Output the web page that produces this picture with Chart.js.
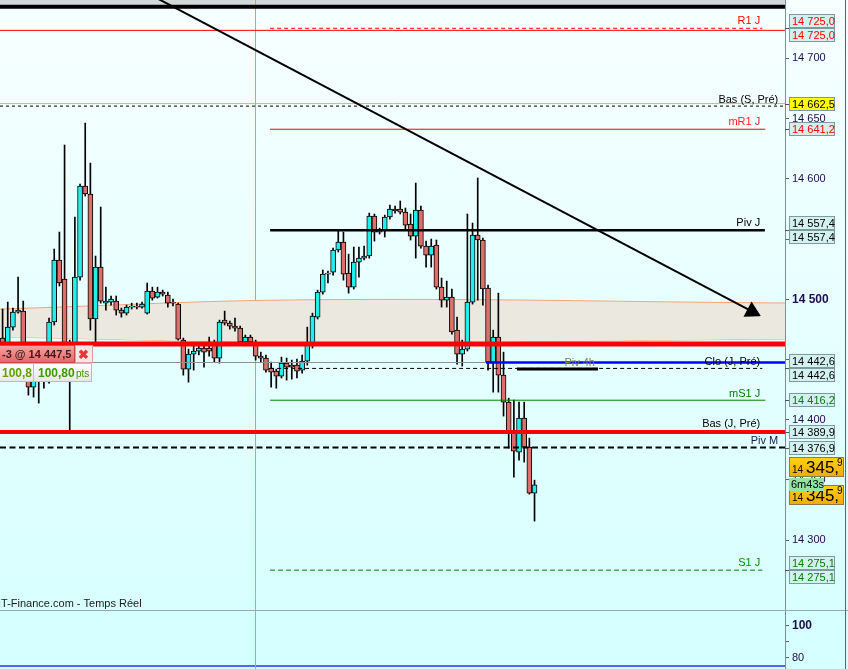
<!DOCTYPE html>
<html>
<head>
<meta charset="utf-8">
<script src="https://cdn.jsdelivr.net/npm/chart.js@4.4.1/dist/chart.umd.min.js"></script>
<style>
  html, body { margin: 0; padding: 0; background: #d6ffff; overflow: hidden; }
  canvas { display: block; }
</style>
</head>
<body>
<canvas id="price" width="848" height="610"></canvas>
<canvas id="osc" width="848" height="59"></canvas>
<script>
const FONT = '"Liberation Sans", Arial, sans-serif';

// candles, oldest first
const opens = [
  14467.8, 14461.1, 14476.9, 14489.4, 14490.2, 14449.5, 14427.1, 14445.3, 14437.0, 14456.1,
  14481.1, 14532.6, 14516.8, 14462.0, 14457.8, 14518.4, 14594.0, 14587.4, 14483.6, 14526.7,
  14496.8, 14497.7, 14498.5, 14491.0, 14488.5, 14493.5, 14494.4, 14493.5, 14488.5, 14506.8,
  14501.8, 14506.0, 14503.5, 14497.7, 14496.0, 14466.1, 14442.0, 14454.5, 14457.0, 14459.5,
  14459.5, 14463.6, 14451.2, 14482.7, 14480.2, 14477.7, 14476.1, 14464.5, 14468.6, 14464.5,
  14452.8, 14451.2, 14442.8, 14440.4, 14436.2, 14447.0, 14445.3, 14445.3, 14441.2, 14448.7,
  14463.6, 14485.2, 14506.0, 14520.9, 14522.6, 14540.9, 14547.5, 14521.8, 14510.1, 14530.9,
  14534.2, 14535.9, 14569.1, 14555.8, 14557.5, 14568.3, 14574.9, 14574.9, 14572.4, 14562.5,
  14552.5, 14574.1, 14544.2, 14536.7, 14545.0, 14510.1, 14499.3, 14501.8, 14474.4, 14454.5,
  14458.6, 14497.7, 14553.3, 14549.2, 14509.3, 14447.8, 14468.6, 14437.0, 14414.6, 14388.9,
  14373.1, 14401.3, 14377.2, 14339.0
];
const highs = [
  14491.9, 14497.7, 14492.7, 14518.4, 14498.5, 14453.7, 14445.3, 14451.2, 14462.0, 14484.4,
  14541.7, 14555.8, 14628.1, 14466.1, 14568.3, 14595.7, 14646.3, 14613.1, 14535.9, 14576.6,
  14510.1, 14502.7, 14502.7, 14492.7, 14495.2, 14496.8, 14496.8, 14497.7, 14513.5, 14510.1,
  14510.1, 14507.6, 14506.0, 14500.2, 14496.8, 14467.8, 14458.6, 14462.0, 14462.8, 14462.0,
  14468.6, 14466.1, 14482.7, 14490.2, 14481.9, 14484.4, 14477.7, 14470.3, 14470.3, 14466.1,
  14456.1, 14453.7, 14447.8, 14442.0, 14452.0, 14451.2, 14449.5, 14450.3, 14453.7, 14476.9,
  14488.5, 14507.6, 14524.3, 14523.4, 14542.5, 14557.5, 14555.8, 14537.5, 14543.4, 14543.4,
  14544.2, 14571.6, 14570.8, 14559.1, 14569.9, 14578.2, 14577.4, 14581.6, 14575.8, 14570.8,
  14596.5, 14577.4, 14548.3, 14550.0, 14549.2, 14517.6, 14515.1, 14508.5, 14485.2, 14466.1,
  14570.8, 14563.3, 14600.7, 14550.8, 14511.8, 14474.4, 14505.1, 14456.1, 14417.9, 14416.3,
  14414.6, 14414.6, 14384.7, 14349.8
];
const lows = [
  14456.1, 14456.1, 14474.4, 14488.5, 14445.3, 14420.4, 14418.8, 14413.8, 14426.2, 14430.4,
  14478.6, 14511.0, 14457.8, 14391.4, 14445.3, 14515.9, 14585.7, 14474.4, 14463.6, 14496.8,
  14491.0, 14495.2, 14486.9, 14485.2, 14486.9, 14491.9, 14491.9, 14492.7, 14487.7, 14499.3,
  14501.0, 14502.7, 14493.5, 14494.4, 14466.1, 14437.0, 14431.2, 14441.2, 14453.7, 14443.7,
  14452.8, 14447.8, 14447.0, 14478.6, 14475.2, 14473.6, 14462.8, 14462.8, 14462.8, 14449.5,
  14447.8, 14439.5, 14427.1, 14426.2, 14434.6, 14432.9, 14433.7, 14434.6, 14438.7, 14445.3,
  14459.5, 14483.6, 14504.3, 14513.5, 14520.1, 14539.2, 14515.9, 14505.1, 14508.5, 14518.4,
  14532.6, 14534.2, 14548.3, 14554.2, 14551.7, 14566.6, 14571.6, 14570.8, 14557.5, 14549.2,
  14534.2, 14542.5, 14526.7, 14526.7, 14508.5, 14493.5, 14493.5, 14471.1, 14446.2, 14444.5,
  14457.0, 14496.0, 14499.3, 14495.2, 14441.2, 14422.9, 14422.9, 14403.0, 14376.4, 14352.3,
  14366.4, 14364.8, 14338.2, 14315.8
];
const closes = [
  14461.1, 14476.9, 14489.4, 14491.0, 14449.5, 14427.1, 14439.5, 14432.9, 14456.1, 14481.1,
  14532.6, 14513.5, 14462.0, 14449.5, 14518.4, 14594.0, 14587.4, 14483.6, 14526.7, 14498.5,
  14498.5, 14500.2, 14491.0, 14488.5, 14493.5, 14494.4, 14493.5, 14496.0, 14506.8, 14501.0,
  14506.0, 14504.3, 14496.8, 14496.8, 14466.9, 14442.0, 14454.5, 14457.0, 14459.5, 14456.1,
  14457.0, 14451.2, 14481.1, 14480.2, 14477.7, 14476.1, 14464.5, 14468.6, 14464.5, 14452.8,
  14451.2, 14441.2, 14439.5, 14436.2, 14447.0, 14443.7, 14443.7, 14440.4, 14448.7, 14462.8,
  14486.0, 14506.0, 14520.9, 14521.8, 14540.9, 14547.5, 14520.9, 14510.1, 14530.9, 14534.2,
  14535.9, 14569.1, 14555.8, 14557.5, 14568.3, 14574.9, 14573.3, 14572.4, 14561.6, 14552.5,
  14574.1, 14544.2, 14536.7, 14544.2, 14510.1, 14499.3, 14501.8, 14472.8, 14454.5, 14458.6,
  14497.7, 14553.3, 14549.2, 14508.5, 14447.8, 14468.6, 14437.0, 14414.6, 14388.9, 14373.9,
  14401.3, 14377.2, 14339.0, 14345.9
];

// right axis ticks
const yTicks = [14300, 14350, 14400, 14450, 14500, 14550, 14600, 14650, 14700];
const oscTicks = [80, 90, 100];

// levels drawn over the chart
const levelNames = ['R1 J', 'Bas (S, Pré)', 'mR1 J', 'Piv J', 'Clo (J, Pré)', 'mS1 J', 'Bas (J, Pré)', 'Piv M', 'S1 J', 'Piv 4h'];
const levelValues = [14725.0, 14662.5, 14641.2, 14557.4, 14442.6, 14416.2, 14389.9, 14376.9, 14275.1, 14442.2];

// other lines
const topLineValue = 14742.9;
const r1LiveValue = 14723.3;
const basSDashValue = 14660.4;
const ribbonValue = 14462.8;
const orderPrice = 14447.5;
const lastPrice = 14345.9;

// shaded zone around 14 500
const zoneAt = [-0.5, 60, 151.5];
const zoneTop = [14491.9, 14499.6, 14496.9];
const zoneBottom = [14468.7, 14464.2, 14467.0];

// trend line
const trendAt = [29, 145.1];
const trendValues = [14752, 14489.9];

// lower pane
const oscAt = [-0.5, 151.5];
const oscValues = [75, 75];

// ---- layout ----
const X_MIN = -0.5, X_MAX = 151.5;
const DAY_SPLIT = 48.8, DAY_FROM = 51.8;
const ORDER_END = 93.6;

const levelStyle = {
  'R1 J':         {color: '#ff0000', width: 1,   dash: [4, 3],   from: DAY_FROM, to: 147.1, text: '#ff0000', labelAt: 146.7, lift: 4},
  'Bas (S, Pré)': {color: '#ff9c9c', width: 1,   dash: [],       from: X_MIN,    to: X_MAX, text: '#000000', labelAt: 150.2, lift: 1},
  'mR1 J':        {color: '#ff0000', width: 1,   dash: [],       from: DAY_FROM, to: 147.7, text: '#ff1e1e', labelAt: 146.7, lift: 4},
  'Piv J':        {color: '#000000', width: 2.5, dash: [],       from: DAY_FROM, to: 147.6, text: '#000000', labelAt: 146.7, lift: 4.5},
  'Clo (J, Pré)': {color: '#000000', width: 1,   dash: [4, 3],   from: DAY_FROM, to: 147.1, text: '#000000', labelAt: 146.7, lift: 3},
  'mS1 J':        {color: '#008000', width: 1,   dash: [],       from: DAY_FROM, to: 147.7, text: '#008000', labelAt: 146.7, lift: 3.5},
  'Bas (J, Pré)': {color: '#ff0000', width: 4,   dash: [],       from: X_MIN,    to: X_MAX, text: '#000000', labelAt: 146.7, lift: 4.5},
  'Piv M':        {color: '#000000', width: 2,   dash: [6, 3.5], from: X_MIN,    to: X_MAX, text: '#1a1a50', labelAt: 150.2, lift: 3.5},
  'S1 J':         {color: '#008000', width: 1,   dash: [5, 3],   from: DAY_FROM, to: 147.1, text: '#009000', labelAt: 146.7, lift: 4},
  'Piv 4h':       {color: '#000000', width: 3,   dash: [],       from: 99.6,     to: 115.3, text: '#7c7c58', labelAt: 114.7, lift: 3}
};

const UP = '#22eeee', DOWN = '#dd6f6a';
const SEPARATOR = '#ff8686';

function priceText(v) {
  const s = v.toFixed(1);
  const [i, d] = s.split('.');
  return i.slice(0, -3) + ' ' + i.slice(-3) + ',' + d;
}
function tickText(v) {
  const s = String(v);
  return s.length > 3 ? s.slice(0, -3) + ' ' + s.slice(-3) : s;
}
function level(name) { return levelValues[levelNames.indexOf(name)]; }

function hLine(value, from, to, color, width, dash, order) {
  return {
    type: 'line',
    data: [{x: from, y: value}, {x: to, y: value}],
    borderColor: color, borderWidth: width, borderDash: dash || [],
    pointRadius: 0, fill: false, tension: 0, order: order === undefined ? 1 : order
  };
}

const candleIdx = opens.map((o, i) => i);
const isUp = candleIdx.map(i => closes[i] >= opens[i]);

const datasets = [
  {
    type: 'line', data: zoneAt.map((x, k) => ({x, y: zoneTop[k]})),
    borderColor: '#f6a578', borderWidth: 1, pointRadius: 0, tension: 0.4,
    fill: '+1', backgroundColor: '#ebe9df', order: 10
  },
  {
    type: 'line', data: zoneAt.map((x, k) => ({x, y: zoneBottom[k]})),
    borderColor: '#f6a578', borderWidth: 1, pointRadius: 0, tension: 0.4,
    fill: false, order: 10
  },
  {
    type: 'bar', data: candleIdx.map(i => ({x: i, y: [lows[i], highs[i]]})),
    backgroundColor: '#000', barThickness: 1, grouped: false, order: 3
  },
  {
    type: 'bar', data: candleIdx.map(i => ({x: i, y: [opens[i], closes[i]]})),
    backgroundColor: isUp.map(u => u ? UP : DOWN),
    borderColor: '#000', borderWidth: 1, borderSkipped: false,
    barThickness: 5, grouped: false, order: 2
  },
  hLine(topLineValue, X_MIN, X_MAX, '#000', 4),
  hLine(r1LiveValue, X_MIN, X_MAX, '#ff0000', 1),
  hLine(basSDashValue, X_MIN, X_MAX, '#000', 1, [3, 3]),
  hLine(ribbonValue, X_MIN, X_MAX, '#ff0000', 5),
  hLine(orderPrice, X_MIN, ORDER_END, '#909090', 1),
  hLine(orderPrice, ORDER_END, X_MAX, '#0000ff', 2.5),
  ...levelNames.map(n => {
    const st = levelStyle[n];
    return hLine(level(n), st.from, st.to, st.color, st.width, st.dash);
  }),
  {
    type: 'line', data: trendAt.map((x, k) => ({x, y: trendValues[k]})),
    borderColor: '#000', borderWidth: 2, tension: 0, fill: false,
    pointRadius: [0, 8], pointStyle: 'triangle', pointRotation: 117.7,
    pointBackgroundColor: '#000', pointBorderColor: '#000', order: 0
  }
];

const overlay = {
  id: 'overlay',
  beforeDraw(chart) {
    const {ctx, width, height, chartArea: a} = chart;
    const g = ctx.createLinearGradient(0, 0, 0, height);
    g.addColorStop(0, '#f7ffff');
    g.addColorStop(1, '#d8ffff');
    ctx.save();
    ctx.fillStyle = g;
    ctx.fillRect(0, 0, width, height);
    ctx.fillStyle = '#d3d8d8';
    ctx.fillRect(a.left, 0, a.right - a.left, 5);
    ctx.restore();
  },
  beforeDatasetsDraw(chart) {
    const {ctx, chartArea: a} = chart;
    const x = Math.round(chart.scales.x.getPixelForValue(DAY_SPLIT)) + 0.5;
    ctx.save();
    ctx.strokeStyle = SEPARATOR;
    ctx.lineWidth = 1;
    ctx.beginPath(); ctx.moveTo(x, a.top); ctx.lineTo(x, a.bottom); ctx.stroke();
    ctx.restore();
  },
  afterDraw(chart) {
    const {ctx, chartArea: a} = chart;
    const xs = chart.scales.x, ys = chart.scales.y;
    ctx.save();

    // level captions
    ctx.font = '11px ' + FONT;
    ctx.textAlign = 'right';
    ctx.textBaseline = 'alphabetic';
    levelNames.forEach(n => {
      const st = levelStyle[n];
      ctx.fillStyle = st.text;
      ctx.fillText(n, xs.getPixelForValue(st.labelAt), ys.getPixelForValue(level(n)) - st.lift);
    });

    // watermark
    ctx.textAlign = 'left';
    ctx.fillStyle = '#1a1a1a';
    ctx.fillText('IT-Finance.com - Temps Réel', -2, 607);

    // open order widget
    const oy = Math.round(ys.getPixelForValue(orderPrice));
    let gr = ctx.createLinearGradient(0, oy - 18, 0, oy);
    gr.addColorStop(0, '#f7a5a5'); gr.addColorStop(1, '#e86464');
    ctx.fillStyle = gr; ctx.fillRect(0, oy - 18, 75, 18);
    ctx.strokeStyle = '#c84848'; ctx.lineWidth = 1; ctx.strokeRect(-0.5, oy - 17.5, 75, 17);
    ctx.fillStyle = '#fbe6e6'; ctx.fillRect(75, oy - 18, 18, 18);
    ctx.strokeStyle = '#d8a0a0'; ctx.strokeRect(75.5, oy - 17.5, 17, 17);
    ctx.fillStyle = '#3c1c1c'; ctx.font = 'bold 11px ' + FONT;
    ctx.fillText('-3 @ 14 447,5', 2, oy - 5);
    ctx.fillStyle = '#e23a3a'; ctx.font = 'bold 13px ' + FONT;
    ctx.fillText('\u2716', 78, oy - 4);
    gr = ctx.createLinearGradient(0, oy, 0, oy + 19);
    gr.addColorStop(0, '#ffffff'); gr.addColorStop(1, '#e6e6e6');
    ctx.fillStyle = gr; ctx.fillRect(0, oy, 92, 19);
    ctx.strokeStyle = '#bcbcbc'; ctx.strokeRect(-0.5, oy + 0.5, 34, 18); ctx.strokeRect(33.5, oy + 0.5, 58, 18);
    ctx.fillStyle = '#63a000'; ctx.font = 'bold 12px ' + FONT;
    ctx.fillText('100,8', 2, oy + 14);
    ctx.fillStyle = '#3f9a00';
    ctx.fillText('100,80', 38, oy + 14);
    ctx.font = '10px ' + FONT;
    ctx.fillText('pts', 76, oy + 14);

    // right price tags
    const tags = [
      {v: level('R1 J'), s: -1, c: '#ff0000'}, {v: level('R1 J'), s: 1, c: '#ff0000'},
      {v: level('Bas (S, Pré)'), s: 0, c: '#000', f: '#ffff00'},
      {v: level('mR1 J'), s: 0, c: '#ff0000'},
      {v: level('Piv J'), s: -1, c: '#000'}, {v: level('Piv J'), s: 1, c: '#000'},
      {v: level('Clo (J, Pré)'), s: -1, c: '#000'}, {v: level('Clo (J, Pré)'), s: 1, c: '#000'},
      {v: level('mS1 J'), s: 0, c: '#008000'},
      {v: level('Bas (J, Pré)'), s: 0, c: '#000'},
      {v: level('Piv M'), s: 0, c: '#000'},
      {v: level('S1 J'), s: -1, c: '#008000'}, {v: level('S1 J'), s: 1, c: '#008000'}
    ];
    const bx = a.right + 4;
    ctx.font = '11px ' + FONT;
    ctx.textBaseline = 'middle';
    tags.forEach(t => {
      const py = ys.getPixelForValue(t.v);
      const top = Math.round(py - 7 + t.s * 7);
      ctx.strokeStyle = '#4a5a60';
      ctx.beginPath(); ctx.moveTo(a.right, Math.round(py) + 0.5); ctx.lineTo(a.right + 4, Math.round(py) + 0.5); ctx.stroke();
      ctx.fillStyle = t.f || '#d3f1f1';
      ctx.fillRect(bx, top, 46, 14);
      ctx.strokeStyle = '#7c9aa0';
      ctx.strokeRect(bx + 0.5, top + 0.5, 45, 13);
      ctx.fillStyle = t.c;
      ctx.fillText(priceText(t.v), bx + 3, top + 7.5);
    });

    // last price boxes
    const ly = ys.getPixelForValue(lastPrice);
    const lastParts = priceText(lastPrice).split(/[ ,]/);
    [Math.round(ly - 28), Math.round(ly)].forEach(top => {
      const g2 = ctx.createLinearGradient(0, top, 0, top + 20);
      g2.addColorStop(0, '#ffd21a'); g2.addColorStop(1, '#f2aa00');
      ctx.fillStyle = g2; ctx.fillRect(bx, top, 55, 20);
      ctx.strokeStyle = '#8c7a50'; ctx.strokeRect(bx + 0.5, top + 0.5, 54, 19);
      ctx.fillStyle = '#000'; ctx.textBaseline = 'alphabetic';
      ctx.font = '10px ' + FONT; ctx.fillText(lastParts[0], bx + 3, top + 16);
      ctx.font = '17px ' + FONT; ctx.fillText(lastParts[1] + ',', bx + 17, top + 16);
      ctx.font = '10px ' + FONT; ctx.fillText(lastParts[2], bx + 48, top + 9);
    });
    ctx.fillStyle = '#93e3a3';
    ctx.fillRect(bx, Math.round(ly) - 7, 35, 13);
    ctx.fillStyle = '#000'; ctx.font = '11px ' + FONT; ctx.textBaseline = 'middle';
    ctx.fillText('6m43s', bx + 2, Math.round(ly) - 0.5);

    // edge of the next pane
    ctx.strokeStyle = '#55666c';
    ctx.beginPath(); ctx.moveTo(845.5, 0); ctx.lineTo(845.5, chart.height); ctx.stroke();
    ctx.restore();
  }
};

const priceChart = new Chart(document.getElementById('price'), {
  type: 'bar',
  data: {datasets},
  options: {
    responsive: false, animation: false, devicePixelRatio: 1, events: [],
    layout: {padding: 0, autoPadding: false},
    plugins: {legend: {display: false}, tooltip: {enabled: false}},
    scales: {
      x: {type: 'linear', min: X_MIN, max: X_MAX, offset: false, display: false},
      y: {
        position: 'right', min: 14242, max: 14748.5,
        afterFit(s) { s.width = 63; s.paddingTop = 0; s.paddingBottom = 0; },
        afterBuildTicks(s) { s.ticks = yTicks.map(v => ({value: v})); },
        grid: {drawOnChartArea: false, drawTicks: true, tickLength: 4, color: '#55666c'},
        border: {display: true, color: '#7b9096'},
        ticks: {
          padding: 3, color: '#200c50', autoSkip: false,
          font: c => (c.tick && c.tick.value === 14500) ? {family: FONT, size: 12, weight: 'bold'} : {family: FONT, size: 11},
          callback: v => tickText(v)
        }
      }
    }
  },
  plugins: [overlay]
});

const oscPane = {
  id: 'oscPane',
  beforeDraw(chart) {
    const {ctx, width, height} = chart;
    ctx.save();
    ctx.fillStyle = '#d6ffff';
    ctx.fillRect(0, 0, width, height);
    ctx.restore();
  },
  afterDraw(chart) {
    const {ctx, chartArea: a} = chart;
    const x = Math.round(chart.scales.x.getPixelForValue(DAY_SPLIT)) + 0.5;
    ctx.save();
    ctx.strokeStyle = SEPARATOR;
    ctx.beginPath(); ctx.moveTo(x, 0); ctx.lineTo(x, a.bottom); ctx.stroke();
    ctx.strokeStyle = '#98a8ac';
    ctx.beginPath(); ctx.moveTo(0, 0.5); ctx.lineTo(chart.width, 0.5); ctx.stroke();
    ctx.strokeStyle = '#55666c';
    ctx.beginPath(); ctx.moveTo(845.5, 0); ctx.lineTo(845.5, chart.height); ctx.stroke();
    ctx.restore();
  }
};

const oscChart = new Chart(document.getElementById('osc'), {
  type: 'line',
  data: {
    datasets: [{
      data: oscAt.map((x, k) => ({x, y: oscValues[k]})),
      borderColor: '#2f2fe6', borderWidth: 1.5, pointRadius: 0, fill: false
    }]
  },
  options: {
    responsive: false, animation: false, devicePixelRatio: 1, events: [],
    layout: {padding: 0, autoPadding: false},
    plugins: {legend: {display: false}, tooltip: {enabled: false}},
    scales: {
      x: {type: 'linear', min: X_MIN, max: X_MAX, offset: false, display: false},
      y: {
        position: 'right', min: 73.1, max: 110,
        afterFit(s) { s.width = 63; s.paddingTop = 0; s.paddingBottom = 0; },
        afterBuildTicks(s) { s.ticks = oscTicks.map(v => ({value: v})); },
        grid: {drawOnChartArea: false, drawTicks: true, tickLength: 4, color: '#55666c'},
        border: {display: true, color: '#7b9096'},
        ticks: {
          padding: 3, color: '#200c50', autoSkip: false,
          font: c => (c.tick && c.tick.value === 100) ? {family: FONT, size: 12, weight: 'bold'} : {family: FONT, size: 11},
          callback: v => v === 90 ? '' : String(v)
        }
      }
    }
  },
  plugins: [oscPane]
});
</script>
</body>
</html>
